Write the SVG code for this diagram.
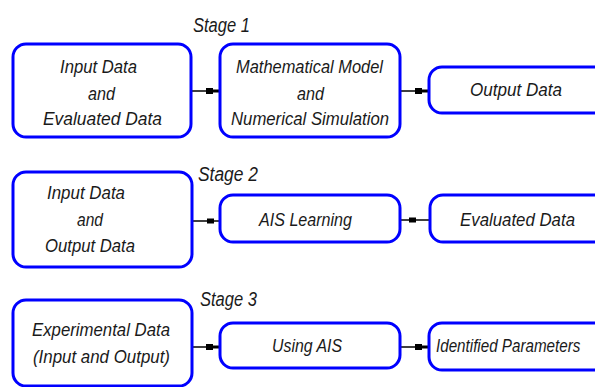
<svg xmlns="http://www.w3.org/2000/svg" width="595" height="387" viewBox="0 0 595 387">
<style>
.box{fill:#fff;stroke:#0000ff;stroke-width:3}
.t{font-family:"Liberation Sans",Arial,sans-serif;font-style:italic;font-size:19px;fill:#1a1a1a}
.st{font-family:"Liberation Sans",Arial,sans-serif;font-style:italic;font-size:20px;fill:#1a1a1a}
.c{fill:none;stroke:#000;stroke-width:1.5}
</style>
<defs>
<marker id="arr" markerUnits="userSpaceOnUse" markerWidth="16" markerHeight="8" refX="15" refY="4" orient="auto" viewBox="0 0 16 8">
<path d="M1,1 H8 V2.5 H15 V5.5 H8 V7 H1 Z" fill="#000"/>
</marker>
<marker id="sq" markerUnits="userSpaceOnUse" markerWidth="8" markerHeight="6" refX="4" refY="3" orient="auto" viewBox="0 0 8 6">
<path d="M0.5,0.5 H7.5 V5.5 H0.5 Z" fill="#000"/>
</marker>
</defs>
<rect width="595" height="387" fill="#fff"/>

<text class="st" x="193" y="32" textLength="57" lengthAdjust="spacingAndGlyphs">Stage 1</text>
<text class="st" x="198" y="181" textLength="60" lengthAdjust="spacingAndGlyphs">Stage 2</text>
<text class="st" x="200" y="306" textLength="57" lengthAdjust="spacingAndGlyphs">Stage 3</text>

<g id="connectors">
<path class="c" d="M191,91 H220" marker-end="url(#arr)"/>
<path class="c" d="M400,91 H429" marker-end="url(#arr)"/>
<path class="c" d="M192,221 L210.5,221 L220,221" marker-mid="url(#sq)"/>
<path class="c" d="M400,220 L412.5,220 L430,220" marker-mid="url(#sq)"/>
<path class="c" d="M192,347 H220" marker-end="url(#arr)"/>
<path class="c" d="M400,347 H429" marker-end="url(#arr)"/>
</g>

<g id="nodeA">
<rect class="box" x="13" y="44" width="178" height="93" rx="13"/>
<text class="t" x="60" y="73" textLength="77" lengthAdjust="spacingAndGlyphs">Input Data</text>
<text class="t" x="88" y="100" textLength="27" lengthAdjust="spacingAndGlyphs">and</text>
<text class="t" x="43" y="125" textLength="119" lengthAdjust="spacingAndGlyphs">Evaluated Data</text>
</g>
<g id="nodeB">
<rect class="box" x="220" y="44" width="180" height="93" rx="13"/>
<text class="t" x="236" y="73" textLength="147" lengthAdjust="spacingAndGlyphs">Mathematical Model</text>
<text class="t" x="297" y="100" textLength="27" lengthAdjust="spacingAndGlyphs">and</text>
<text class="t" x="231" y="125" textLength="158" lengthAdjust="spacingAndGlyphs">Numerical Simulation</text>
</g>
<g id="nodeC">
<rect class="box" x="429" y="67" width="200" height="46" rx="13"/>
<text class="t" x="470" y="96" textLength="92" lengthAdjust="spacingAndGlyphs">Output Data</text>
</g>

<g id="nodeD">
<rect class="box" x="13" y="172" width="179" height="95" rx="13"/>
<text class="t" x="47" y="199" textLength="78" lengthAdjust="spacingAndGlyphs">Input Data</text>
<text class="t" x="77" y="226" textLength="26" lengthAdjust="spacingAndGlyphs">and</text>
<text class="t" x="45" y="252" textLength="90" lengthAdjust="spacingAndGlyphs">Output Data</text>
</g>
<g id="nodeE">
<rect class="box" x="220" y="195" width="180" height="47" rx="13"/>
<text class="t" x="259" y="226" textLength="93" lengthAdjust="spacingAndGlyphs">AIS Learning</text>
</g>
<g id="nodeF">
<rect class="box" x="430" y="195" width="200" height="47" rx="13"/>
<text class="t" x="460" y="226" textLength="115" lengthAdjust="spacingAndGlyphs">Evaluated Data</text>
</g>

<g id="nodeG">
<rect class="box" x="13" y="300" width="179" height="86" rx="13"/>
<text class="t" x="32" y="336" textLength="138" lengthAdjust="spacingAndGlyphs">Experimental Data</text>
<text class="t" x="33" y="363" textLength="137" lengthAdjust="spacingAndGlyphs">(Input and Output)</text>
</g>
<g id="nodeH">
<rect class="box" x="220" y="323" width="180" height="45" rx="13"/>
<text class="t" x="272" y="352" textLength="70" lengthAdjust="spacingAndGlyphs">Using AIS</text>
</g>
<g id="nodeI">
<rect class="box" x="429" y="323" width="200" height="47" rx="13"/>
<text class="t" x="0" y="0" transform="translate(436,352) scale(0.8,1)">Identified Parameters</text>
</g>
</svg>
